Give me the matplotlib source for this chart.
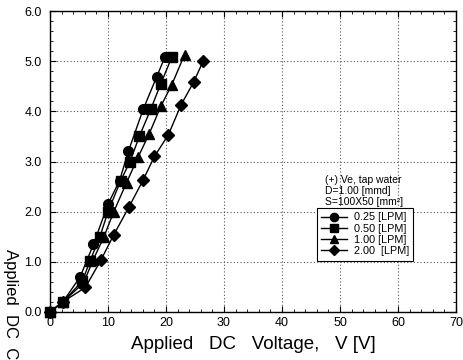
import matplotlib
matplotlib.use("Agg")
import matplotlib.pyplot as plt
from matplotlib.ticker import MultipleLocator, FormatStrFormatter

plt.rcParams['font.family'] = ['Liberation Sans', 'DejaVu Sans']

v_025 = [0, 2.2, 5.2, 7.5, 10.0, 12.0, 13.5, 16.1, 18.4, 19.8]
i_025 = [0, 0.2, 0.7, 1.35, 2.15, 2.62, 3.2, 4.05, 4.69, 5.08]
v_050 = [0, 2.2, 5.6, 6.9, 8.6, 10.0, 12.2, 13.8, 15.4, 17.4, 19.1, 21.0]
i_050 = [0, 0.2, 0.62, 1.02, 1.5, 2.0, 2.62, 3.0, 3.5, 4.05, 4.55, 5.08]
v_100 = [0, 2.2, 5.8, 7.4, 9.3, 11.0, 13.2, 15.2, 17.1, 19.1, 21.0, 23.2]
i_100 = [0, 0.2, 0.58, 1.03, 1.5, 2.0, 2.58, 3.09, 3.55, 4.1, 4.53, 5.13]
v_200 = [0, 2.2, 6.1, 8.8, 11.0, 13.6, 16.1, 18.0, 20.4, 22.6, 24.8, 26.4]
i_200 = [0, 0.2, 0.49, 1.04, 1.54, 2.09, 2.64, 3.1, 3.53, 4.13, 4.59, 5.0]

labels = ['0.25 [LPM]', '0.50 [LPM]', '1.00 [LPM]', '2.00  [LPM]']
markers = ['o', 's', '^', 'D']
sizes = [7, 6.5, 7, 6]
notes = ['(+) Ve, tap water', 'D=1.00 [mmd]', 'S=100X50 [mm²]']

fig = plt.figure(figsize=(4.64, 3.6), dpi=100)
ax = fig.add_axes([50/464, 1-312/360, 406/464, 301/360])

series = [(v_025, i_025), (v_050, i_050), (v_100, i_100), (v_200, i_200)]
for (vx, iy), lab, m, s in zip(series, labels, markers, sizes):
    ax.plot(vx, iy, color='black', lw=1.0, marker=m, ms=s, mfc='black',
            mec='black', label=lab, clip_on=False, zorder=3)

ax.set_xlim(0, 70)
ax.set_ylim(0, 6)
ax.xaxis.set_major_locator(MultipleLocator(10))
ax.xaxis.set_minor_locator(MultipleLocator(2))
ax.yaxis.set_major_locator(MultipleLocator(1))
ax.yaxis.set_minor_locator(MultipleLocator(0.2))
ax.yaxis.set_major_formatter(FormatStrFormatter('%.1f'))
ax.tick_params(which='both', direction='in', top=True, right=True, labelsize=9)
ax.tick_params(which='major', length=4)
ax.tick_params(which='minor', length=2)
ax.tick_params(axis='y', pad=6)
ax.grid(True, which='major', linestyle=(0, (1, 2)), color='#555555', lw=0.8)
for sp in ax.spines.values():
    sp.set_linewidth(1.0)

ax.set_xlabel('Applied   DC   Voltage,   V [V]', fontsize=13.5, labelpad=5)
fig.text(10/464, 1-249/360, 'Applied  DC  Current,  I [A]', rotation=-90,
         ha='center', va='top', fontsize=12)

for k, note in enumerate(notes):
    fig.text(325/464, 1-(180 + 11*k)/360, note, fontsize=7.5, va='center', ha='left')

leg = ax.legend(loc='upper left', bbox_to_anchor=(317/464, 1-208/360),
                bbox_transform=fig.transFigure, fontsize=7.8, frameon=True,
                fancybox=False, edgecolor='black', framealpha=1,
                handlelength=2.4, handletextpad=0.6, labelspacing=0.12,
                borderpad=0.4, markerscale=0.85, borderaxespad=0)
leg.get_frame().set_linewidth(0.8)

fig.savefig('out.png', dpi=100)
